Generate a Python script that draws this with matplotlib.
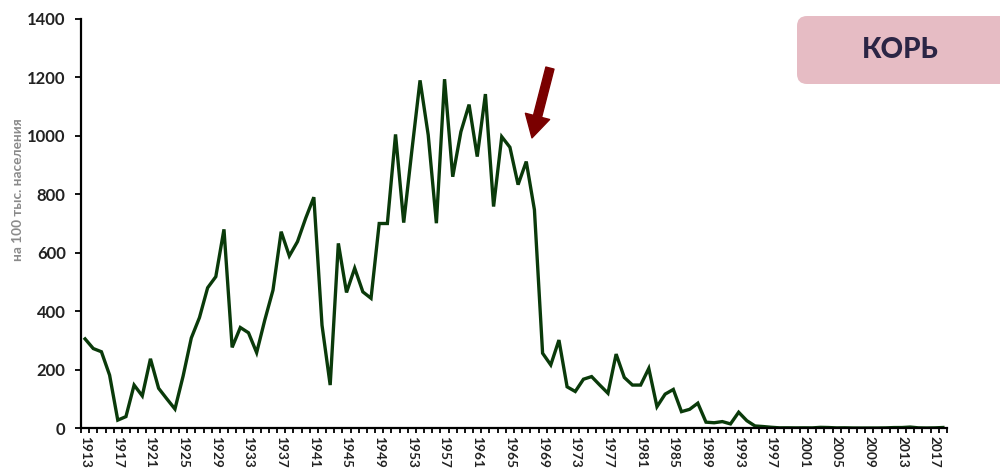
import matplotlib
matplotlib.use("Agg")
import matplotlib.pyplot as plt
from matplotlib.patches import FancyBboxPatch
from matplotlib.transforms import IdentityTransform

plt.rcParams['font.family'] = ['Lato', 'Noto Sans', 'DejaVu Sans']

# measles incidence per 100k population, 1913-2018
years = list(range(1913, 2019))
incidence = [
    305, 272, 261, 181, 27, 39, 147, 110, 237, 136,      # 1913-1922
    100, 65, 178, 308, 378, 480, 518, 680, 276, 344,     # 1923-1932
    326, 258, 370, 472, 672, 589, 638, 718, 790, 352,    # 1933-1942
    147, 632, 464, 547, 466, 444, 700, 700, 1005, 703,   # 1943-1952
    950, 1190, 1003, 701, 1194, 860, 1014, 1107, 929, 1143,  # 1953-1962
    758, 997, 961, 833, 912, 747, 256, 216, 301, 141,    # 1963-1972
    125, 167, 176, 147, 119, 253, 173, 147, 147, 204,    # 1973-1982
    73, 116, 132, 56, 64, 85, 20, 18, 22, 14,            # 1983-1992
    54, 25, 7, 5, 2.5, 0.6, 0.7, 0.4, 0.6, 0.4,          # 1993-2002
    2.2, 1.6, 0.4, 0.7, 0.1, 0.02, 0.07, 0.09, 0.45, 1.5,  # 2003-2012
    1.6, 3.2, 0.58, 0.12, 0.5, 1.7,                      # 2013-2018
]
label_years = list(range(1913, 2019, 4))
y_ticks = list(range(0, 1401, 200))

fig = plt.figure(figsize=(10, 4.69), dpi=100)
ax = fig.add_axes([0.081, 0.0874, 0.866, 0.8721])

ax.plot(years, incidence, color='#0a3a0a', lw=2.4, solid_joinstyle='miter')

ax.set_xlim(years[0] - 0.5, years[-1] + 0.5)
ax.set_ylim(0, 1400)
ax.set_yticks(y_ticks)
ax.set_xticks(label_years)
ax.set_xticks([y - 0.5 for y in years] + [years[-1] + 0.5], minor=True)

for s in ['top', 'right']:
    ax.spines[s].set_visible(False)
for s in ['left', 'bottom']:
    ax.spines[s].set_linewidth(1.6)
    ax.spines[s].set_color('black')

ax.tick_params(axis='y', direction='out', length=4, width=1.3, pad=7,
               labelsize=12, labelcolor='#222222')
ax.tick_params(axis='x', which='major', length=0, pad=5.5,
               labelsize=9.8, labelrotation=-90, labelcolor='#222222')
ax.tick_params(axis='x', which='minor', direction='out', length=3.5, width=1.3)
for lab in ax.get_yticklabels() + ax.get_xticklabels():
    lab.set_fontweight('bold')
for lab in ax.get_xticklabels():
    lab.set_va('top')
    lab.set_ha('center')

fig.text(0.018, 0.595, 'на 100 тыс. населения', rotation=90, ha='center',
         va='center', fontsize=9.8, color='#8a8a8a', fontweight='bold')

# arrow marking the start of vaccination
ax.annotate('', xy=(1967.7, 993), xytext=(1969.9, 1232),
            arrowprops=dict(arrowstyle='simple,head_length=1.6,head_width=1.8,tail_width=0.6',
                            color='#7a0000', mutation_scale=10, shrinkA=0, shrinkB=0))

# title badge
box = FancyBboxPatch((797, 385), 215, 68, boxstyle='round,pad=0,rounding_size=10',
                     transform=IdentityTransform(), facecolor='#e6bcc4',
                     edgecolor='none', figure=fig)
fig.patches.append(box)
fig.text(0.9, 0.893, 'КОРЬ', ha='center', va='center', fontsize=20,
         fontweight='black', color='#2b2545')

fig.savefig('out.png', dpi=100)
